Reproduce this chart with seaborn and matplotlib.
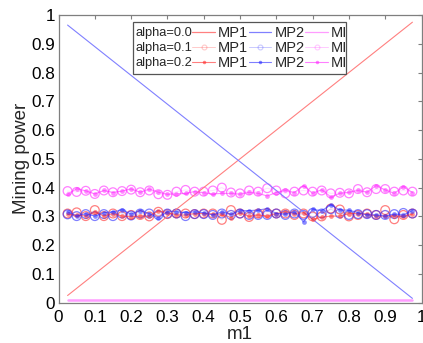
import matplotlib
matplotlib.use("Agg")
import matplotlib.pyplot as plt
from matplotlib.lines import Line2D
from matplotlib.patches import Rectangle
import numpy as np
import pandas as pd
import seaborn as sns

sns.set_style("white")
plt.rcParams['font.family'] = ['Liberation Sans', 'DejaVu Sans']

# ---------------- data ----------------
m1 = [0.025, 0.05, 0.075, 0.1, 0.125, 0.15, 0.175, 0.2, 0.225, 0.25,
      0.275, 0.3, 0.325, 0.35, 0.375, 0.4, 0.425, 0.45, 0.475, 0.5,
      0.525, 0.55, 0.575, 0.6, 0.625, 0.65, 0.675, 0.7, 0.725, 0.75,
      0.775, 0.8, 0.825, 0.85, 0.875, 0.9, 0.925, 0.95, 0.975]

# alpha = 0.0 (straight lines, endpoints)
m1_a0 = [0.025, 0.975]
mp1_a0 = [0.025, 0.975]
mp2_a0 = [0.965, 0.015]
mi_a0 = [0.01, 0.01]

# alpha = 0.1
mp1_a1 = [0.310, 0.314, 0.301, 0.322, 0.301, 0.310, 0.301, 0.305, 0.305, 0.300,
          0.316, 0.308, 0.310, 0.310, 0.308, 0.310, 0.310, 0.288, 0.322, 0.310,
          0.298, 0.310, 0.312, 0.310, 0.310, 0.305, 0.310, 0.300, 0.300, 0.327,
          0.324, 0.300, 0.305, 0.310, 0.305, 0.322, 0.290, 0.305, 0.310]
mp2_a1 = [0.307, 0.301, 0.308, 0.301, 0.308, 0.301, 0.310, 0.303, 0.310, 0.310,
          0.305, 0.310, 0.310, 0.301, 0.308, 0.308, 0.305, 0.310, 0.305, 0.310,
          0.305, 0.305, 0.305, 0.310, 0.305, 0.310, 0.305, 0.312, 0.310, 0.325,
          0.310, 0.305, 0.308, 0.308, 0.305, 0.305, 0.308, 0.312, 0.310]
mi_a1 = [0.388, 0.385, 0.389, 0.378, 0.390, 0.384, 0.388, 0.393, 0.384, 0.390,
         0.377, 0.375, 0.386, 0.392, 0.386, 0.386, 0.390, 0.400, 0.383, 0.380,
         0.390, 0.386, 0.398, 0.390, 0.380, 0.386, 0.390, 0.386, 0.390, 0.380,
         0.382, 0.380, 0.395, 0.384, 0.395, 0.395, 0.386, 0.390, 0.386]

# alpha = 0.2
mp1_a2 = [0.307, 0.305, 0.301, 0.316, 0.301, 0.310, 0.301, 0.299, 0.301, 0.301,
          0.319, 0.313, 0.305, 0.305, 0.310, 0.310, 0.308, 0.308, 0.296, 0.313,
          0.300, 0.305, 0.301, 0.310, 0.316, 0.310, 0.313, 0.290, 0.297, 0.301,
          0.301, 0.310, 0.310, 0.308, 0.301, 0.301, 0.301, 0.301, 0.307]
mp2_a2 = [0.316, 0.301, 0.310, 0.301, 0.313, 0.316, 0.322, 0.308, 0.320, 0.310,
          0.295, 0.316, 0.316, 0.313, 0.316, 0.313, 0.305, 0.316, 0.308, 0.320,
          0.320, 0.322, 0.327, 0.310, 0.308, 0.316, 0.281, 0.324, 0.320, 0.340,
          0.322, 0.322, 0.313, 0.305, 0.305, 0.301, 0.308, 0.305, 0.320]
mi_a2 = [0.377, 0.396, 0.389, 0.378, 0.390, 0.383, 0.388, 0.396, 0.384, 0.395,
         0.384, 0.377, 0.378, 0.380, 0.386, 0.382, 0.378, 0.380, 0.380, 0.377,
         0.384, 0.380, 0.371, 0.383, 0.390, 0.383, 0.407, 0.380, 0.393, 0.368,
         0.380, 0.384, 0.390, 0.384, 0.407, 0.392, 0.380, 0.403, 0.383]

alpha_labels = ["alpha=0.0", "alpha=0.1", "alpha=0.2"]
series_labels = ["MP1", "MP2", "MI"]
xtick_vals = [0, 0.1, 0.2, 0.3, 0.4, 0.5, 0.6, 0.7, 0.8, 0.9, 1]
xtick_labels = ["0", "0.1", "0.2", "0.3", "0.4", "0.5", "0.6", "0.7", "0.8", "0.9", "1"]
ytick_vals = [0, 0.1, 0.2, 0.3, 0.4, 0.5, 0.6, 0.7, 0.8, 0.9, 1]
ytick_labels = ["0", "0.1", "0.2", "0.3", "0.4", "0.5", "0.6", "0.7", "0.8", "0.9", "1"]

# ---------------- figure ----------------
W, H = 423, 343
fig = plt.figure(figsize=(W / 100, H / 100), dpi=100)
ax_l, ax_r, ax_t, ax_b = 58.5, 421.5, 15.0, 302.7
ax = fig.add_axes([ax_l / W, 1 - ax_b / H, (ax_r - ax_l) / W, (ax_b - ax_t) / H])

c_red0, c_blue0, c_mag0 = "#ff8080", "#8080ff", "#ff9cff"
c_red, c_blue, c_mag = "#ff2a2a", "#2a2aff", "#ff2aff"

df0 = pd.DataFrame({"m1": m1_a0, "MP1": mp1_a0, "MP2": mp2_a0, "MI": mi_a0})
df = pd.DataFrame({"m1": m1, "MP1_1": mp1_a1, "MP2_1": mp2_a1, "MI_1": mi_a1,
                   "MP1_2": mp1_a2, "MP2_2": mp2_a2, "MI_2": mi_a2})

# alpha = 0.0
sns.lineplot(data=df0, x="m1", y="MP1", ax=ax, color=c_red0, lw=0.8)
sns.lineplot(data=df0, x="m1", y="MP2", ax=ax, color=c_blue0, lw=0.8)
sns.lineplot(data=df0, x="m1", y="MI", ax=ax, color=c_mag0, lw=1.8)

# alpha = 0.1 : faint lines, open circles
for col, c in [("MP1_1", c_red), ("MP2_1", c_blue), ("MI_1", c_mag)]:
    sns.lineplot(data=df, x="m1", y=col, ax=ax, color=c, lw=0.7, alpha=0.15)
    sns.scatterplot(data=df, x="m1", y=col, ax=ax, marker="o", s=40,
                    facecolor="none", edgecolor=c, linewidth=0.9, alpha=0.6)

# alpha = 0.2 : lines with dots
for col, c in [("MP1_2", c_red), ("MP2_2", c_blue), ("MI_2", c_mag)]:
    sns.lineplot(data=df, x="m1", y=col, ax=ax, color=c, lw=0.8, alpha=0.55,
                 marker="o", markersize=3.4, markeredgewidth=0, markerfacecolor=c)

ax.set_xlim(0, 1)
ax.set_ylim(0, 1)
ax.set_xticks(xtick_vals)
ax.set_xticklabels(xtick_labels)
ax.set_yticks(ytick_vals)
ax.set_yticklabels(ytick_labels)
ax.tick_params(axis="both", direction="in", length=3, width=0.8, color="#7f7f7f",
               top=True, right=True, labelsize=12.3, labelcolor="black")
ax.tick_params(axis="x", pad=5.5)
ax.tick_params(axis="y", pad=2.5)
for s in ax.spines.values():
    s.set_color("#7f7f7f")
    s.set_linewidth(0.9)
    s.set_visible(True)

ax.set_xlabel("m1", fontsize=13.5)
ax.set_ylabel("Mining power", fontsize=13.5)
ax.xaxis.set_label_coords(0.5, -0.080)
ax.yaxis.set_label_coords(-0.078, 0.5)

# ---------------- legend ----------------
handles = []
labels = []
cols0 = {"MP1": c_red0, "MP2": c_blue0, "MI": c_mag0}
cols = {"MP1": c_red, "MP2": c_blue, "MI": c_mag}
for name in series_labels:
    for a in range(3):
        if a == 0:
            h = Line2D([], [], color=cols0[name], lw=0.9)
        elif a == 1:
            h = Line2D([], [], color=cols[name], lw=0.7, alpha=0.25, marker="o",
                       markersize=3.5, markerfacecolor="none", markeredgewidth=0.8)
        else:
            h = Line2D([], [], color=cols[name], lw=0.8, alpha=0.6, marker="o",
                       markersize=2.5, markeredgewidth=0)
        handles.append(h)
        labels.append(name)

anchor = [192.0, 16.0]
leg = fig.legend(handles, labels, ncol=3, loc="upper left",
                 bbox_to_anchor=(anchor[0] / W, 1 - anchor[1] / H), frameon=False,
                 fontsize=10.5, handlelength=1.55, handletextpad=0.2,
                 columnspacing=0.05, labelspacing=0.08, borderpad=0.2,
                 numpoints=1)
leg.set_zorder(6)
fig.canvas.draw()
renderer = fig.canvas.get_renderer()
texts = leg.get_texts()
# align first text: left at 218 px, row centre near 33 px (from top)
bb = texts[0].get_window_extent(renderer)
cur_x = bb.x0
cur_y = H - (bb.y0 + bb.y1) / 2
anchor[0] += 218 - cur_x
anchor[1] += 33.0 - cur_y
leg.set_bbox_to_anchor((anchor[0] / W, 1 - anchor[1] / H), transform=fig.transFigure)
fig.canvas.draw()

inv = fig.transFigure.inverted()
for r in range(3):
    bb = texts[r].get_window_extent(renderer)
    yc = (bb.y0 + bb.y1) / 2
    fx, fy = inv.transform((135.5, yc))
    fig.text(fx, fy, alpha_labels[r], fontsize=9.3, ha="left", va="center", zorder=7)

# frame
x0, x1 = 132.5, 345.5
y0, y1 = 22.0, 73.5
fig.patches.append(Rectangle((x0 / W, 1 - y1 / H), (x1 - x0) / W, (y1 - y0) / H,
                             transform=fig.transFigure, fill=True,
                             facecolor="white", edgecolor="#555555", lw=0.9,
                             zorder=5))

fig.savefig("out.png", dpi=100)
